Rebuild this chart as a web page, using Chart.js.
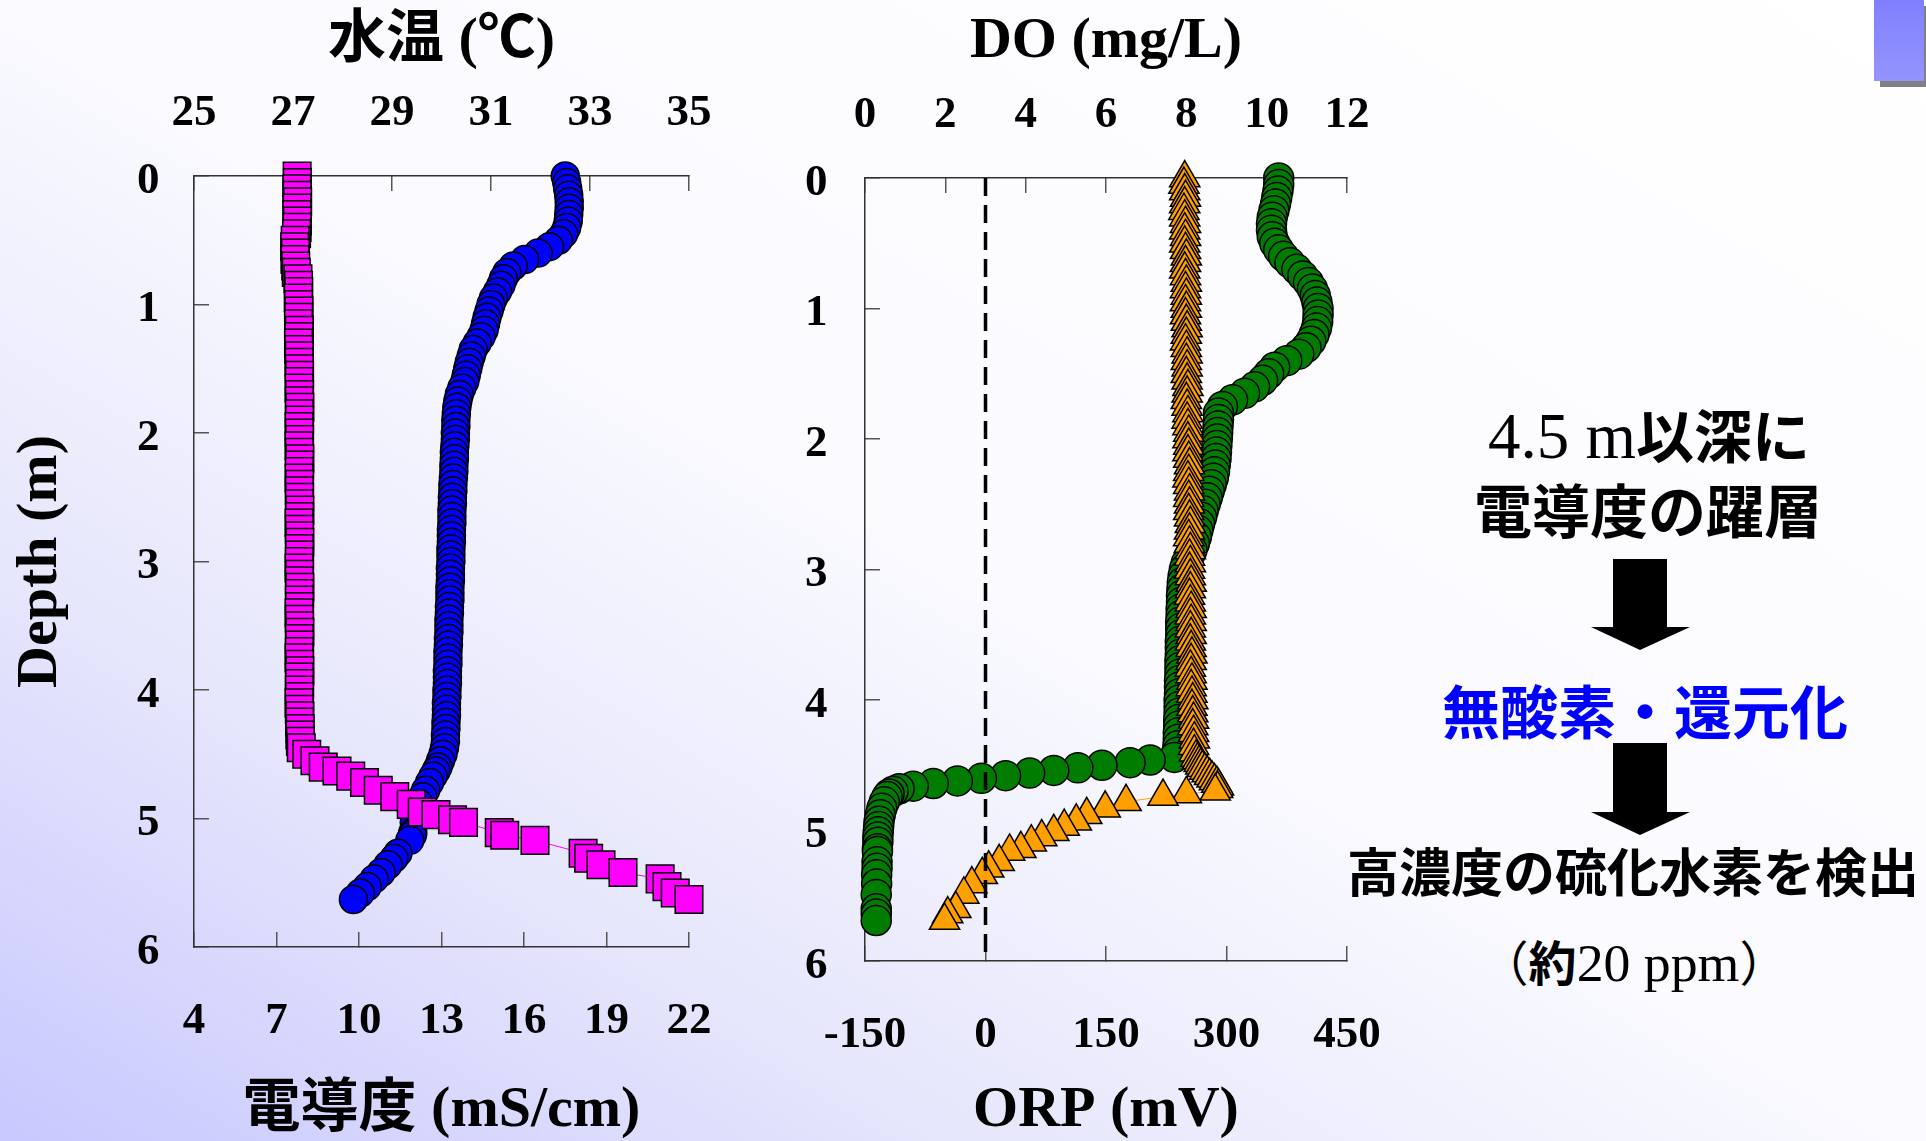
<!DOCTYPE html>
<html lang="ja">
<head>
<meta charset="utf-8">
<title>水温・電導度・DO・ORP 鉛直分布</title>
<script src="https://cdn.jsdelivr.net/npm/chart.js@4.4.1/dist/chart.umd.min.js"></script>
<style>
  html, body { margin: 0; padding: 0; }
  body {
    position: relative;
    width: 1926px;
    height: 1141px;
    overflow: hidden;
    background: linear-gradient(to top right, #c8c8ff 0%, #e6e6fc 25%, #fafaff 50%, #ffffff 100%);
    font-family: 'Noto Sans CJK JP', sans-serif;
  }
  .chart-box { position: absolute; top: 0; height: 1141px; }
  #leftBox { left: 0; width: 760px; }
  #rightBox { left: 760px; width: 660px; }
  .note {
    position: absolute;
    transform: translate(-50%, -50%);
    white-space: nowrap;
    line-height: 1;
    font-weight: 700;
    color: #000;
  }
  .serif { font-family: 'Liberation Serif', serif; font-weight: 400; font-size: 1.12em; }
  .thin { font-weight: 400; }
  .blue { color: #0000ff; }
  .corner-tab {
    position: absolute;
    left: 1874px;
    top: 0;
    width: 50px;
    height: 81px;
    background: linear-gradient(#8080ff, #9494ff);
    box-shadow: 6px 6px 0 #808080;
  }
  svg.arrows { position: absolute; left: 0; top: 0; }
</style>
</head>
<body>

<div class="chart-box" id="leftBox"><canvas id="leftChart" width="760" height="1141"></canvas></div>
<div class="chart-box" id="rightBox"><canvas id="rightChart" width="660" height="1141"></canvas></div>

<div class="corner-tab"></div>

<div class="note" style="left:1649px; top:436px; font-size:58px;"><span class="serif">4.5 m</span>以深に</div>
<div class="note" style="left:1648px; top:508px; font-size:58px;">電導度の躍層</div>
<div class="note blue" style="left:1645px; top:709px; font-size:58px;">無酸素・還元化</div>
<div class="note" style="left:1633px; top:870px; font-size:52px;">高濃度の硫化水素を検出</div>
<div class="note" style="left:1634px; top:963px; font-size:48px;"><span class="thin">（</span>約<span class="serif">20 ppm</span><span class="thin">）</span></div>

<svg class="arrows" width="1926" height="1141">
  <polygon points="1613,559 1667,559 1667,627 1690,627 1640,650 1591,627 1613,627" fill="#000"/>
  <polygon points="1613,743 1667,743 1667,812 1690,812 1640,835 1591,812 1613,812" fill="#000"/>
</svg>

<script>
'use strict';

// --- CTD cast (left panel): depth (m), water temperature (℃), conductivity (mS/cm) ---
const ctdDepth = [
  0.00, 0.05, 0.10, 0.15, 0.20, 0.25, 0.30, 0.35, 0.40, 0.45,
  0.50, 0.55, 0.60, 0.65, 0.70, 0.75, 0.80, 0.85, 0.90, 0.95,
  1.00, 1.05, 1.10, 1.15, 1.20, 1.25, 1.30, 1.35, 1.40, 1.45,
  1.50, 1.55, 1.60, 1.65, 1.70, 1.75, 1.80, 1.85, 1.90, 1.95,
  2.00, 2.05, 2.10, 2.15, 2.20, 2.25, 2.30, 2.35, 2.40, 2.45,
  2.50, 2.55, 2.60, 2.65, 2.70, 2.75, 2.80, 2.85, 2.90, 2.95,
  3.00, 3.05, 3.10, 3.15, 3.20, 3.25, 3.30, 3.35, 3.40, 3.45,
  3.50, 3.55, 3.60, 3.65, 3.70, 3.75, 3.80, 3.85, 3.90, 3.95,
  4.00, 4.05, 4.10, 4.15, 4.20, 4.25, 4.30, 4.35, 4.40,
  4.45, 4.50, 4.55, 4.60, 4.63, 4.67, 4.72, 4.78, 4.83, 4.89,
  4.95, 4.97, 5.01, 5.03, 5.11, 5.13, 5.17, 5.27, 5.31, 5.36,
  5.42, 5.47, 5.53, 5.58, 5.63
];
const tempC = [
  32.50, 32.53, 32.55, 32.57, 32.58, 32.58, 32.57, 32.56, 32.53, 32.47,
  32.36, 32.18, 31.95, 31.68, 31.45, 31.32, 31.25, 31.20, 31.13, 31.05,
  31.00, 30.96, 30.92, 30.89, 30.86, 30.80, 30.72, 30.64, 30.60, 30.56,
  30.53, 30.50, 30.47, 30.41, 30.36, 30.33, 30.31, 30.30, 30.29, 30.29,
  30.28, 30.28, 30.27, 30.26, 30.26, 30.25, 30.25, 30.24, 30.23, 30.23,
  30.22, 30.22, 30.21, 30.21, 30.21, 30.20, 30.20, 30.20, 30.19, 30.19,
  30.19, 30.18, 30.18, 30.18, 30.17, 30.17, 30.17, 30.16, 30.16, 30.15,
  30.15, 30.15, 30.14, 30.14, 30.13, 30.13, 30.13, 30.12, 30.12, 30.12,
  30.11, 30.11, 30.10, 30.10, 30.10, 30.09, 30.09, 30.08, 30.08,
  30.06, 30.03, 29.98, 29.93, 29.89, 29.83, 29.76, 29.68, 29.62, 29.56,
  29.51, 29.49, 29.46, 29.45, 29.42, 29.41, 29.36, 29.12, 29.04, 28.92,
  28.78, 28.64, 28.50, 28.36, 28.22
];
const condMS = [
  7.75, 7.76, 7.74, 7.75, 7.77, 7.75, 7.74, 7.76, 7.75, 7.73,
  7.68, 7.66, 7.69, 7.67, 7.70, 7.72, 7.78, 7.80, 7.81, 7.79,
  7.80, 7.82, 7.81, 7.80, 7.83, 7.82, 7.80, 7.81, 7.83, 7.82,
  7.83, 7.84, 7.83, 7.82, 7.84, 7.83, 7.85, 7.83, 7.84, 7.82,
  7.83, 7.84, 7.82, 7.83, 7.85, 7.84, 7.83, 7.82, 7.84, 7.83,
  7.84, 7.83, 7.85, 7.84, 7.82, 7.83, 7.84, 7.85, 7.83, 7.84,
  7.83, 7.82, 7.84, 7.83, 7.85, 7.84, 7.83, 7.84, 7.82, 7.83,
  7.84, 7.85, 7.83, 7.84, 7.83, 7.82, 7.84, 7.85, 7.83, 7.84,
  7.83, 7.84, 7.82, 7.83, 7.85, 7.84, 7.86, 7.85, 7.87,
  7.90, 8.10, 8.40, 8.70, 9.20, 9.70, 10.20, 10.70, 11.30, 11.90,
  12.30, 12.80, 13.40, 13.80, 15.10, 15.30, 16.40, 18.15, 18.35, 18.80,
  19.60, 20.95, 21.20, 21.50, 22.00
];

// --- Sonde cast (right panel): depth (m), DO (mg/L), ORP (mV) ---
const sondeDepth = [
  0.00, 0.05, 0.10, 0.15, 0.20, 0.25, 0.30, 0.35, 0.40, 0.45,
  0.50, 0.55, 0.60, 0.65, 0.70, 0.75, 0.80, 0.85, 0.90, 0.95,
  1.00, 1.05, 1.10, 1.15, 1.20, 1.25, 1.30, 1.35, 1.40, 1.45,
  1.50, 1.55, 1.60, 1.65, 1.70, 1.75, 1.80, 1.85, 1.90, 1.95,
  2.00, 2.05, 2.10, 2.15, 2.20, 2.25, 2.30, 2.35, 2.40, 2.45,
  2.50, 2.55, 2.60, 2.65, 2.70, 2.75, 2.80, 2.85, 2.90, 2.95,
  3.00, 3.05, 3.10, 3.15, 3.20, 3.25, 3.30, 3.35, 3.40, 3.45,
  3.50, 3.55, 3.60, 3.65, 3.70, 3.75, 3.80, 3.85, 3.90, 3.95,
  4.00, 4.05, 4.10, 4.15, 4.20, 4.25, 4.30, 4.35, 4.40,
  4.44, 4.46, 4.48, 4.50, 4.52, 4.54, 4.56, 4.58, 4.60, 4.62,
  4.64, 4.66, 4.68, 4.70, 4.72, 4.74, 4.78, 4.83, 4.88, 4.93,
  4.97, 5.01, 5.05, 5.09, 5.14, 5.16, 5.24, 5.29, 5.34, 5.41,
  5.49, 5.60, 5.64, 5.69
];
const doMgL = [
  10.30, 10.30, 10.28, 10.25, 10.22, 10.18, 10.14, 10.12, 10.12, 10.14,
  10.20, 10.30, 10.42, 10.58, 10.75, 10.90, 11.04, 11.14, 11.21, 11.25,
  11.28, 11.28, 11.27, 11.24, 11.18, 11.10, 10.98, 10.80, 10.50, 10.20,
  10.05, 9.90, 9.70, 9.45, 9.15, 8.90, 8.80, 8.80, 8.79, 8.78,
  8.77, 8.76, 8.75, 8.74, 8.72, 8.70, 8.67, 8.62, 8.57, 8.52,
  8.47, 8.42, 8.38, 8.33, 8.29, 8.25, 8.20, 8.14, 8.07, 8.00,
  7.95, 7.92, 7.90, 7.89, 7.88, 7.88, 7.87, 7.87, 7.86, 7.86,
  7.86, 7.85, 7.85, 7.85, 7.84, 7.84, 7.84, 7.83, 7.83, 7.83,
  7.82, 7.82, 7.82, 7.81, 7.81, 7.80, 7.80, 7.79, 7.78,
  7.70, 7.10, 6.60, 5.90, 5.30, 4.70, 4.10, 3.50, 2.90, 2.30,
  1.70, 1.20, 0.85, 0.70, 0.60, 0.55, 0.48, 0.42, 0.38, 0.35,
  0.34, 0.33, 0.32, 0.32, 0.31, 0.31, 0.30, 0.30, 0.29, 0.29,
  0.28, 0.28, 0.28, 0.28
];
const orpMV = [
  248, 247, 248, 249, 248, 247, 248, 249, 248, 249,
  248, 249, 250, 249, 248, 249, 250, 249, 250, 249,
  250, 249, 250, 251, 250, 249, 250, 251, 250, 251,
  250, 251, 252, 251, 250, 251, 252, 251, 252, 253,
  252, 253, 252, 253, 254, 253, 252, 253, 254, 253,
  254, 253, 254, 255, 254, 253, 254, 255, 254, 255,
  254, 255, 256, 255, 254, 255, 256, 255, 256, 255,
  256, 255, 256, 257, 256, 255, 256, 257, 256, 257,
  258, 257, 258, 259, 258, 259, 260, 259, 260,
  262, 264, 266, 268, 270, 273, 276, 279, 282, 285,
  288, 290, 289, 286, 250, 221, 175, 149, 126, 113,
  98, 85, 70, 57, 44, 30, 17, 4, -4, -17,
  -27, -37, -47, -51
];

// --- ORP = 0 mV reference (dashed line) ---
const orpRefValue = 0;
const orpRefDepth = [0, 5.95];

// --- Tick labels ---
const depthTicks = [0, 1, 2, 3, 4, 5, 6];
const tempTicks = [25, 27, 29, 31, 33, 35];
const condTicks = [4, 7, 10, 13, 16, 19, 22];
const doTicks = [0, 2, 4, 6, 8, 10, 12];
const orpTicks = [-150, 0, 150, 300, 450];

// --- Shared styling ---
const tickFont = { family: "'Liberation Serif', serif", size: 45, weight: 'bold', lineHeight: 1 };
const titleFont = { family: "'Liberation Serif', 'Noto Sans CJK JP', serif", size: 58, weight: 'bold', lineHeight: 1 };
const gridOpts = { drawOnChartArea: false, drawTicks: true, tickLength: -15, color: '#555', lineWidth: 1.5 };
const borderOpts = { display: true, color: '#333', width: 1.5 };

function fixedTicks(values) {
  return function (scale) {
    scale.ticks = values.map(v => ({ value: v }));
  };
}

// axis box gets a fixed size, and label overhang no longer pushes the plot area in
function fixedSize(px) {
  return function (scale) {
    if (scale.isHorizontal()) scale.height = px;
    else scale.width = px;
    scale.paddingLeft = 0;
    scale.paddingRight = 0;
    scale.paddingTop = 0;
    scale.paddingBottom = 0;
  };
}

function pairs(xs, ys) {
  return ys.map((y, i) => ({ x: xs[i], y: y }));
}

function depthAxis(width, labelPad, title) {
  return {
    type: 'linear',
    position: 'left',
    reverse: true,
    min: 0,
    max: 6,
    afterBuildTicks: fixedTicks(depthTicks),
    afterFit: fixedSize(width),
    grid: gridOpts,
    border: borderOpts,
    ticks: { font: tickFont, color: '#000', padding: labelPad, labelOffset: 5, autoSkip: false },
    title: title
      ? { display: true, text: title, color: '#000', font: titleFont, padding: { top: 12 } }
      : { display: false }
  };
}

function valueAxis(position, min, max, ticks, height, title) {
  const isTop = position === 'top';
  return {
    type: 'linear',
    position: position,
    min: min,
    max: max,
    afterBuildTicks: fixedTicks(ticks),
    afterFit: fixedSize(height),
    grid: gridOpts,
    border: borderOpts,
    ticks: { font: tickFont, color: '#000', padding: isTop ? 55 : 67, autoSkip: false, maxRotation: 0 },
    title: {
      display: true,
      text: title,
      color: '#000',
      font: titleFont,
      padding: isTop ? { top: 13 } : { bottom: 1 }
    }
  };
}

const baseOptions = {
  responsive: false,
  devicePixelRatio: 1,
  animation: false,
  events: [],
  plugins: { legend: { display: false }, tooltip: { enabled: false } }
};

// --- Left panel: 水温 / 電導度 ---
function setupLeftChart() {
  const ctx = document.getElementById('leftChart').getContext('2d');
  new Chart(ctx, {
    type: 'scatter',
    data: {
      datasets: [
        {
          label: '電導度',
          xAxisID: 'xCond',
          yAxisID: 'y',
          data: pairs(condMS, ctdDepth),
          showLine: true,
          borderColor: '#ff00ff',
          borderWidth: 1,
          pointStyle: 'rect',
          pointRadius: 19.5,
          pointBackgroundColor: '#ff00ff',
          pointBorderColor: '#000',
          pointBorderWidth: 1.5,
          clip: false
        },
        {
          label: '水温',
          xAxisID: 'xTemp',
          yAxisID: 'y',
          data: pairs(tempC, ctdDepth),
          showLine: true,
          borderColor: '#0000ff',
          borderWidth: 1,
          pointStyle: 'circle',
          pointRadius: 14,
          pointBackgroundColor: '#0000ff',
          pointBorderColor: '#000',
          pointBorderWidth: 1.5,
          clip: false
        }
      ]
    },
    options: Object.assign({}, baseOptions, {
      layout: { padding: { left: 0, right: 71, top: 0, bottom: 0 } },
      scales: {
        y: depthAxis(194, 49.5, 'Depth (m)'),
        xTemp: valueAxis('top', 25, 35, tempTicks, 176, '水温 (℃)'),
        xCond: valueAxis('bottom', 4, 22, condTicks, 194, '電導度 (mS/cm)')
      }
    })
  });
}

// --- Right panel: DO / ORP ---
function setupRightChart() {
  const ctx = document.getElementById('rightChart').getContext('2d');
  new Chart(ctx, {
    type: 'scatter',
    data: {
      datasets: [
        {
          label: 'ORP 0 mV',
          xAxisID: 'xOrp',
          yAxisID: 'y',
          data: orpRefDepth.map(d => ({ x: orpRefValue, y: d })),
          showLine: true,
          borderColor: '#000',
          borderWidth: 3.5,
          borderDash: [18, 9],
          pointRadius: 0,
          clip: false
        },
        {
          label: 'ORP',
          xAxisID: 'xOrp',
          yAxisID: 'y',
          data: pairs(orpMV, sondeDepth),
          showLine: true,
          borderColor: '#ffa000',
          borderWidth: 1,
          pointStyle: 'triangle',
          pointRadius: 17.5,
          pointBackgroundColor: '#ffa000',
          pointBorderColor: '#000',
          pointBorderWidth: 1.5,
          clip: false
        },
        {
          label: 'DO',
          xAxisID: 'xDo',
          yAxisID: 'y',
          data: pairs(doMgL, sondeDepth),
          showLine: true,
          borderColor: '#008000',
          borderWidth: 1,
          pointStyle: 'circle',
          pointRadius: 15,
          pointBackgroundColor: '#007d00',
          pointBorderColor: '#000',
          pointBorderWidth: 1.5,
          clip: false
        }
      ]
    },
    options: Object.assign({}, baseOptions, {
      layout: { padding: { left: 0, right: 73, top: 0, bottom: 0 } },
      scales: {
        y: depthAxis(105, 52.5, null),
        xDo: valueAxis('top', 0, 12, doTicks, 178, 'DO (mg/L)'),
        xOrp: valueAxis('bottom', -150, 450, orpTicks, 180, 'ORP (mV)')
      }
    })
  });
}

// --- Initialize ---
document.addEventListener('DOMContentLoaded', function () {
  setupLeftChart();
  setupRightChart();
});
</script>
</body>
</html>
